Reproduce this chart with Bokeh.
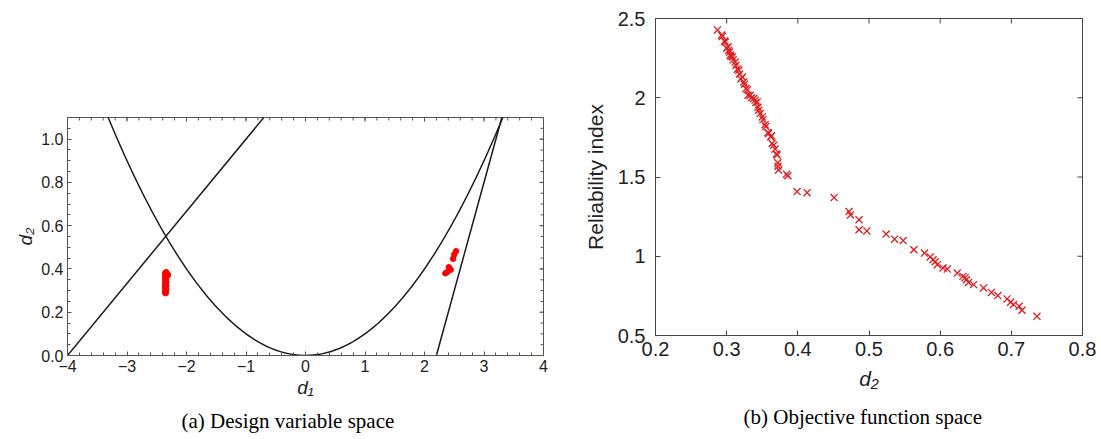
import math
from bokeh.plotting import figure
from bokeh.layouts import row, column
from bokeh.models import (FixedTicker, Range1d, Title,
                          PrintfTickFormatter, CustomJSTickFormatter)
from bokeh.embed import file_html
from bokeh.resources import INLINE

# ---------------- (a) Design variable space ----------------
line1_d1 = [-4.0, -0.7]
line1_d2 = [0.0, 1.1]
line2_d1 = [2.2, 3.3]
line2_d2 = [0.0, 1.1]
# quadratic boundary: start, control, end points
parab_d1 = [-3.32, 0.0, 3.32]
parab_d2 = [1.102, -1.102, 1.102]

left_d1 = [-2.36, -2.35, -2.36, -2.34, -2.35, -2.36, -2.35, -2.34, -2.36, -2.35, -2.34,
           -2.35, -2.36, -2.35, -2.34, -2.36, -2.35, -2.33, -2.31, -2.36, -2.34, -2.35]
left_d2 = [0.29, 0.295, 0.30, 0.305, 0.31, 0.315, 0.32, 0.325, 0.33, 0.335, 0.34,
           0.345, 0.35, 0.355, 0.36, 0.365, 0.37, 0.375, 0.372, 0.38, 0.385, 0.288]
right_d1 = [2.35, 2.38, 2.41, 2.44, 2.48, 2.50, 2.53]
right_d2 = [0.38, 0.385, 0.408, 0.396, 0.447, 0.467, 0.482]

a_xticks = [-4, -3, -2, -1, 0, 1, 2, 3, 4]
a_yticks = [0.0, 0.2, 0.4, 0.6, 0.8, 1.0]
a_xminor = [-4 + 0.2 * i for i in range(41)]
a_yminor = [0.05 * i for i in range(23)]

# ---------------- (b) Objective function space ----------------
obj_d2 = [0.287, 0.293, 0.294, 0.297, 0.298, 0.300, 0.302, 0.303, 0.304, 0.305, 0.306,
          0.308, 0.309, 0.312, 0.313, 0.315, 0.317, 0.318, 0.320, 0.322, 0.324, 0.325,
          0.327, 0.329, 0.330, 0.333, 0.335, 0.338, 0.340, 0.341, 0.343, 0.344, 0.345,
          0.347, 0.350, 0.351, 0.354, 0.355, 0.358, 0.359, 0.362, 0.363, 0.364, 0.366,
          0.368, 0.370, 0.371, 0.372, 0.372, 0.373, 0.384, 0.386, 0.399, 0.413, 0.451,
          0.472, 0.474, 0.486, 0.486, 0.497, 0.524, 0.536, 0.548, 0.563, 0.578, 0.586,
          0.590, 0.593, 0.596, 0.604, 0.610, 0.624, 0.632, 0.635, 0.637, 0.640, 0.647,
          0.661, 0.672, 0.681, 0.694, 0.699, 0.703, 0.711, 0.715, 0.736]
obj_beta = [2.428, 2.396, 2.387, 2.358, 2.351, 2.312, 2.322, 2.300, 2.288, 2.270, 2.262,
            2.257, 2.239, 2.225, 2.205, 2.180, 2.173, 2.150, 2.118, 2.131, 2.100, 2.085,
            2.058, 2.050, 2.016, 2.016, 2.000, 1.995, 1.985, 1.970, 1.974, 1.940, 1.921,
            1.900, 1.879, 1.862, 1.830, 1.818, 1.780, 1.775, 1.753, 1.760, 1.712, 1.700,
            1.676, 1.645, 1.638, 1.590, 1.568, 1.544, 1.518, 1.508, 1.408, 1.401, 1.370,
            1.282, 1.261, 1.230, 1.167, 1.160, 1.140, 1.108, 1.099, 1.041, 1.020, 0.995,
            0.978, 0.965, 0.947, 0.926, 0.919, 0.894, 0.873, 0.865, 0.852, 0.835, 0.821,
            0.800, 0.772, 0.752, 0.731, 0.710, 0.695, 0.684, 0.659, 0.621]

b_xticks = [0.2, 0.3, 0.4, 0.5, 0.6, 0.7, 0.8]
b_yticks = [0.5, 1.0, 1.5, 2.0, 2.5]

SANS = "Liberation Sans"
SERIF = "Liberation Serif"
TXT = "#222222"


def style_axis(ax, font_size, standoff, frame_col, tick_in, minor_in):
    ax.axis_line_color = frame_col
    ax.major_tick_line_color = frame_col
    ax.minor_tick_line_color = frame_col
    ax.major_tick_in = tick_in
    ax.major_tick_out = 0
    ax.minor_tick_in = minor_in
    ax.minor_tick_out = 0
    ax.major_label_text_font = SANS
    ax.major_label_text_color = TXT
    ax.major_label_standoff = standoff
    ax.major_label_text_font_size = font_size


def mirror_ticks(p, xt, yt, xmax, ymax, length, col):
    # inward ticks on the top and right frame edges (half of each dash is clipped)
    p.scatter(xt, [ymax] * len(xt), marker="dash", size=2 * length, angle=math.pi / 2,
              line_color=col, line_width=1)
    p.scatter([xmax] * len(yt), yt, marker="dash", size=2 * length,
              line_color=col, line_width=1)


# ---------- figure (a) ----------
p1 = figure(width=575, height=439, output_backend="svg", toolbar_location=None,
            x_range=Range1d(-4, 4), y_range=Range1d(0, 1.1),
            min_border_left=67, min_border_right=32, min_border_top=117, min_border_bottom=84)
p1.grid.visible = False
p1.outline_line_color = "#555555"
p1.background_fill_color = "white"
p1.border_fill_color = "white"

p1.xaxis.ticker = FixedTicker(ticks=a_xticks, minor_ticks=a_xminor)
p1.yaxis.ticker = FixedTicker(ticks=a_yticks, minor_ticks=a_yminor)
p1.yaxis.formatter = PrintfTickFormatter(format="%.1f")
style_axis(p1.xaxis[0], "16px", 4, "#555555", 4, 3)
style_axis(p1.yaxis[0], "16px", 4, "#555555", 4, 3)
p1.xaxis.axis_label = "d\u2081"
p1.yaxis.axis_label = "d\u2082"
for ax in (p1.xaxis[0], p1.yaxis[0]):
    ax.axis_label_text_font = SANS
    ax.axis_label_text_font_style = "italic"
    ax.axis_label_text_font_size = "19px"
    ax.axis_label_text_color = TXT
    ax.axis_label_standoff = 2

mirror_ticks(p1, a_xticks, a_yticks, 4, 1.1, 4, "#555555")
mirror_ticks(p1, a_xminor, a_yminor, 4, 1.1, 3, "#555555")

p1.line(line1_d1, line1_d2, line_color="#1a1a1a", line_width=1.5)
p1.line(line2_d1, line2_d2, line_color="#1a1a1a", line_width=1.5)
p1.quadratic(x0=[parab_d1[0]], y0=[parab_d2[0]], cx=[parab_d1[1]], cy=[parab_d2[1]],
             x1=[parab_d1[2]], y1=[parab_d2[2]], line_color="#1a1a1a", line_width=1.5)
p1.scatter(left_d1, left_d2, size=5.5, fill_color="#ff0000", line_color="#ff0000")
p1.scatter(right_d1, right_d2, size=5.5, fill_color="#ff0000", line_color="#ff0000")

p1.add_layout(Title(text="(a) Design variable space", align="left", offset=114,
                    text_font=SERIF, text_font_size="21px", text_font_style="normal",
                    text_color="black", standoff=13), "below")

# ---------- figure (b) ----------
p2 = figure(width=526, height=439, output_backend="svg", toolbar_location=None,
            x_range=Range1d(0.2, 0.8), y_range=Range1d(0.5, 2.5),
            min_border_left=80, min_border_right=19, min_border_top=18, min_border_bottom=103)
p2.grid.visible = False
p2.outline_line_color = "#444444"
p2.background_fill_color = "white"
p2.border_fill_color = "white"

p2.xaxis.ticker = FixedTicker(ticks=b_xticks, minor_ticks=[])
p2.yaxis.ticker = FixedTicker(ticks=b_yticks, minor_ticks=[])
p2.xaxis.formatter = PrintfTickFormatter(format="%.1f")
p2.yaxis.formatter = CustomJSTickFormatter(code="return String(tick);")
style_axis(p2.xaxis[0], "20px", 6, "#444444", 5, 0)
style_axis(p2.yaxis[0], "20px", 10, "#444444", 5, 0)
p2.xaxis.axis_label = "d\u2082"
p2.yaxis.axis_label = "Reliability index"
p2.xaxis.axis_label_text_font_style = "italic"
p2.yaxis.axis_label_text_font_style = "normal"
for ax in (p2.xaxis[0], p2.yaxis[0]):
    ax.axis_label_text_font = SANS
    ax.axis_label_text_font_size = "21px"
    ax.axis_label_text_color = TXT
    ax.axis_label_standoff = 8

mirror_ticks(p2, b_xticks, b_yticks, 0.8, 2.5, 5, "#444444")

p2.scatter(obj_d2, obj_beta, marker="x", size=10, line_color="#e31a1c", line_width=1.3)

p2.add_layout(Title(text="(b) Objective function space", align="left", offset=88,
                    text_font=SERIF, text_font_size="21px", text_font_style="normal",
                    text_color="black", standoff=21), "below")

layout = row(column(p1), column(p2), spacing=0)
open("out.html", "w").write(file_html(layout, INLINE))
